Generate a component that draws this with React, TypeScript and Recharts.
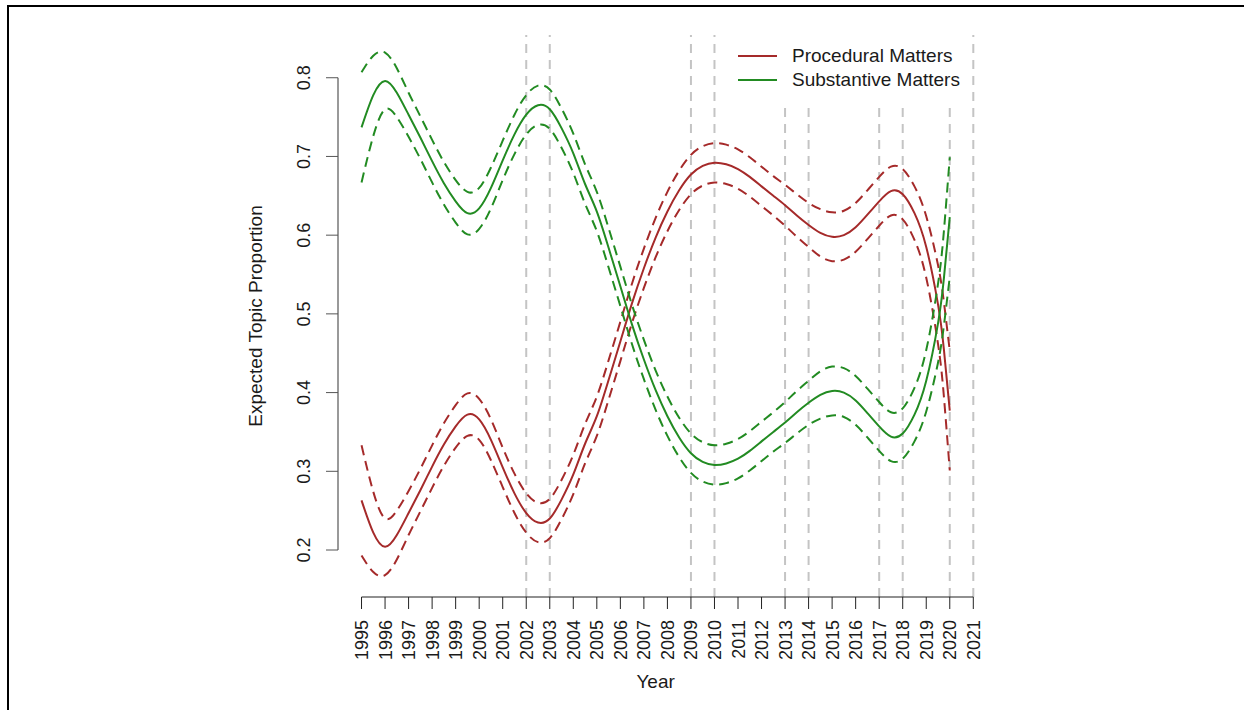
import React from 'react';
import { ComposedChart, Line, XAxis, YAxis, ReferenceLine, Legend } from 'recharts';

const years = [
  1995, 1995.5, 1996, 1996.5, 1997, 1997.5, 1998, 1998.5, 1999, 1999.5,
  2000, 2000.5, 2001, 2001.5, 2002, 2002.5, 2003, 2003.5, 2004, 2004.5,
  2005, 2005.5, 2006, 2006.5, 2007, 2007.5, 2008, 2008.5, 2009, 2009.5,
  2010, 2010.5, 2011, 2011.5, 2012, 2012.5, 2013, 2013.5, 2014, 2014.5,
  2015, 2015.5, 2016, 2016.5, 2017, 2017.5, 2018, 2018.5, 2019, 2019.5,
  2019.75, 2020,
];

const procedural = [
  0.263, 0.222, 0.204, 0.219, 0.247, 0.276, 0.306, 0.334, 0.357, 0.372,
  0.366, 0.340, 0.305, 0.272, 0.247, 0.235, 0.240, 0.264, 0.296, 0.335,
  0.370, 0.416, 0.465, 0.514, 0.558, 0.597, 0.630, 0.657, 0.677, 0.688,
  0.692, 0.690, 0.684, 0.674, 0.662, 0.650, 0.638, 0.625, 0.613, 0.603,
  0.598, 0.600, 0.610, 0.626, 0.643, 0.656, 0.652, 0.628, 0.585, 0.512,
  0.455, 0.377,
];
const proceduralLower = [
  0.193, 0.172, 0.168, 0.188, 0.219, 0.249, 0.279, 0.307, 0.330, 0.345,
  0.340, 0.314, 0.280, 0.247, 0.222, 0.210, 0.215, 0.239, 0.271, 0.310,
  0.345, 0.391, 0.440, 0.489, 0.533, 0.572, 0.605, 0.632, 0.652, 0.663,
  0.667, 0.665, 0.659, 0.649, 0.637, 0.625, 0.612, 0.598, 0.585, 0.573,
  0.567, 0.569, 0.579, 0.595, 0.612, 0.625, 0.620, 0.594, 0.546, 0.462,
  0.395, 0.301,
];
const proceduralUpper = [
  0.333, 0.274, 0.240, 0.250, 0.275, 0.303, 0.333, 0.361, 0.384, 0.399,
  0.392, 0.366, 0.330, 0.297, 0.272, 0.260, 0.265, 0.289, 0.321, 0.360,
  0.395, 0.441, 0.490, 0.539, 0.583, 0.622, 0.655, 0.682, 0.702, 0.713,
  0.717, 0.715, 0.709, 0.699, 0.687, 0.675, 0.664, 0.652, 0.641, 0.633,
  0.629, 0.631, 0.641, 0.657, 0.674, 0.687, 0.684, 0.662, 0.624, 0.562,
  0.515, 0.453,
];

const substantive = [
  0.737, 0.778, 0.796, 0.781, 0.753, 0.724, 0.694, 0.666, 0.643, 0.628,
  0.634, 0.660, 0.695, 0.728, 0.753, 0.765, 0.760, 0.736, 0.704, 0.665,
  0.630, 0.584, 0.535, 0.486, 0.442, 0.403, 0.370, 0.343, 0.323, 0.312,
  0.308, 0.310, 0.316, 0.326, 0.338, 0.350, 0.362, 0.375, 0.387, 0.397,
  0.402, 0.400, 0.390, 0.374, 0.357, 0.344, 0.348, 0.372, 0.415, 0.488,
  0.545, 0.623,
];
const substantiveLower = [
  0.667, 0.726, 0.760, 0.750, 0.725, 0.697, 0.667, 0.639, 0.616, 0.601,
  0.608, 0.634, 0.670, 0.703, 0.728, 0.740, 0.735, 0.711, 0.679, 0.640,
  0.605, 0.559, 0.510, 0.461, 0.417, 0.378, 0.345, 0.318, 0.298, 0.287,
  0.283, 0.285, 0.291, 0.301, 0.313, 0.325, 0.336, 0.348, 0.359, 0.367,
  0.371, 0.369, 0.359, 0.343, 0.326, 0.313, 0.316, 0.338, 0.376, 0.438,
  0.485, 0.547,
];
const substantiveUpper = [
  0.807, 0.828, 0.832, 0.812, 0.781, 0.751, 0.721, 0.693, 0.670, 0.655,
  0.660, 0.686, 0.720, 0.753, 0.778, 0.790, 0.785, 0.761, 0.729, 0.690,
  0.655, 0.609, 0.560, 0.511, 0.467, 0.428, 0.395, 0.368, 0.348, 0.337,
  0.333, 0.335, 0.341, 0.351, 0.363, 0.375, 0.388, 0.402, 0.415, 0.427,
  0.433, 0.431, 0.421, 0.405, 0.388, 0.375, 0.380, 0.406, 0.454, 0.538,
  0.605, 0.699,
];

const yearTicks = [
  1995, 1996, 1997, 1998, 1999, 2000, 2001, 2002, 2003, 2004, 2005, 2006, 2007,
  2008, 2009, 2010, 2011, 2012, 2013, 2014, 2015, 2016, 2017, 2018, 2019, 2020, 2021,
];
const proportionTicks = [0.2, 0.3, 0.4, 0.5, 0.6, 0.7, 0.8];
const markedYears = [2002, 2003, 2009, 2010, 2013, 2014, 2017, 2018, 2020, 2021];
const legendNames = ['Procedural Matters', 'Substantive Matters'];

const RED = '#a52a2a';
const GREEN = '#228b22';
const FONT = '"Liberation Sans", Arial, Helvetica, sans-serif';
const TEXT = '#1a1a1a';

const data = years.map((year, i) => ({
  year,
  procedural: procedural[i],
  proceduralLower: proceduralLower[i],
  proceduralUpper: proceduralUpper[i],
  substantive: substantive[i],
  substantiveLower: substantiveLower[i],
  substantiveUpper: substantiveUpper[i],
}));

const XTick = ({ x, y, payload }: any) => {
  const tx = x + 6.5;
  const ty = y + 9;
  return (
    <text x={tx} y={ty} transform={`rotate(-90 ${tx} ${ty})`} textAnchor="end"
      fontSize={18} fontFamily={FONT} fill={TEXT}>
      {payload.value}
    </text>
  );
};

const YTick = ({ x, y, payload }: any) => {
  const tx = x - 14;
  return (
    <text x={tx} y={y} transform={`rotate(-90 ${tx} ${y})`} textAnchor="middle"
      fontSize={18} fontFamily={FONT} fill={TEXT}>
      {payload.value.toFixed(1)}
    </text>
  );
};

// only the two mean curves go in the legend
const renderLegend = ({ payload }: any) => {
  const items = (payload || []).filter((item: any) => legendNames.includes(item.value));
  return (
    <div style={{ background: '#fff', width: 246, height: 66, position: 'relative', fontFamily: FONT, fontSize: 19, color: TEXT }}>
      {items.map((item: any, i: number) => (
        <div key={item.value} style={{ position: 'absolute', left: 0, top: 9 + i * 24, height: 24, display: 'flex', alignItems: 'center', whiteSpace: 'nowrap' }}>
          <span style={{ display: 'inline-block', width: 39, height: 2, background: item.color, marginLeft: 16, marginRight: 15 }} />
          <span>{item.value}</span>
        </div>
      ))}
    </div>
  );
};

export default function App() {
  return (
    <div style={{ position: 'absolute', left: 0, top: 0, width: 1244, height: 710, background: '#fff', overflow: 'hidden' }}>
      {/* frame left over from the page the figure was cut from */}
      <div style={{ position: 'absolute', left: 7, top: 5, width: 1237, height: 2, background: '#000' }} />
      <div style={{ position: 'absolute', left: 7, top: 5, width: 2, height: 705, background: '#000' }} />

      <ComposedChart width={1244} height={710} data={data}
        margin={{ top: 35, right: 270.7, bottom: 0, left: 0 }}>
        <XAxis dataKey="year" type="number" domain={[1994, 2021]} allowDataOverflow
          ticks={yearTicks} interval={0} axisLine={false} tickSize={12}
          tickLine={{ stroke: '#222' }} tick={<XTick />} height={113}
          label={() => (
            <text x={655.6} y={688} textAnchor="middle" fontSize={19} fontFamily={FONT} fill={TEXT}>Year</text>
          )} />
        <YAxis type="number" domain={[0.1403, 0.8543]} allowDataOverflow
          ticks={proportionTicks} interval={0} axisLine={false} tickSize={12}
          tickLine={{ stroke: '#555' }} tick={<YTick />} width={338}
          label={() => (
            <text x={262} y={316} transform="rotate(-90 262 316)" textAnchor="middle"
              fontSize={19} fontFamily={FONT} fill={TEXT}>Expected Topic Proportion</text>
          )} />

        {markedYears.map((yr) => (
          <ReferenceLine key={yr} x={yr} stroke="#c4c4c4" strokeWidth={2} strokeDasharray="9 7" ifOverflow="visible" />
        ))}

        {/* R-style axis lines that stop at the outer ticks */}
        <ReferenceLine segment={[{ x: 1994, y: 0.2 }, { x: 1994, y: 0.8 }]} stroke="#555" strokeWidth={1.2} ifOverflow="visible" />
        <ReferenceLine segment={[{ x: 1995, y: 0.1403 }, { x: 2021, y: 0.1403 }]} stroke="#222" strokeWidth={1.2} ifOverflow="visible" />

        <Line type="natural" dataKey="procedural" name="Procedural Matters" stroke={RED} strokeWidth={2} dot={false} isAnimationActive={false} />
        <Line type="natural" dataKey="proceduralLower" stroke={RED} strokeWidth={2} strokeDasharray="10 6" dot={false} legendType="none" isAnimationActive={false} />
        <Line type="natural" dataKey="proceduralUpper" stroke={RED} strokeWidth={2} strokeDasharray="10 6" dot={false} legendType="none" isAnimationActive={false} />
        <Line type="natural" dataKey="substantive" name="Substantive Matters" stroke={GREEN} strokeWidth={2} dot={false} isAnimationActive={false} />
        <Line type="natural" dataKey="substantiveLower" stroke={GREEN} strokeWidth={2} strokeDasharray="10 6" dot={false} legendType="none" isAnimationActive={false} />
        <Line type="natural" dataKey="substantiveUpper" stroke={GREEN} strokeWidth={2} strokeDasharray="10 6" dot={false} legendType="none" isAnimationActive={false} />

        <Legend layout="vertical" align="center" verticalAlign="middle" content={renderLegend}
          wrapperStyle={{ left: 722, top: 35, width: 246, height: 66, bottom: 'auto', right: 'auto' }} />
      </ComposedChart>
    </div>
  );
}
